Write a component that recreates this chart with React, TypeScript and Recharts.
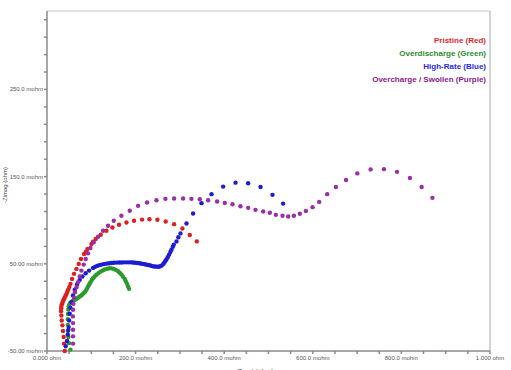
import { ScatterChart, Scatter, XAxis, YAxis, ReferenceLine } from 'recharts';

// Nyquist points, [Zreal mohm, -Zimag mohm]
const pristine: [number, number][] = [
  [40, -50], [38.4, -41.5], [37.7, -34], [36.1, -27], [34.8, -20.6], [33.2, -15], [32.5, -9.2],
  [31.6, -4.3], [32, -1], [32.5, 1.5], [33.5, 3.5], [35, 5.5], [36.5, 7.5], [38, 9.5], [40, 11.5],
  [42, 13.5], [44, 15.5], [46, 18], [48, 20.5], [50.5, 23.5], [53, 27], [56.5, 32.7], [61, 38.5],
  [66.4, 44.2], [71.6, 49.9], [76.8, 55.6], [83.6, 61.3], [88, 64], [91.3, 67], [100.3, 72.7],
  [104, 75.5], [110, 78.5], [121.3, 83.4], [134.2, 87.9], [147.7, 91.7], [162.6, 94.8],
  [179.4, 97.4], [196.5, 99.4], [214.6, 100.7], [231.2, 101.2], [249.2, 100.5], [268, 98.6],
  [286.9, 95.5], [305.7, 90.6], [322.3, 83], [338.1, 75.7],
];

const overdischarge: [number, number][] = [
  [52.9, -48.4], [49.7, -41], [48.3, -34], [47.5, -27], [47, -20], [47, -13.5], [47.3, -7.5],
  [48, -2.5], [49, 1], [50.5, 3.5], [52.5, 5.2], [55, 6.3], [58, 7.3], [61, 8.3], [64, 9.2],
  [67, 10], [70, 11], [73, 12.2], [76, 13.2], [79, 14.6], [82, 16], [85, 17.4], [88, 19.5],
  [90.5, 21.8], [93, 24.2], [95.5, 26.5], [98, 28.8], [101, 31.5], [104, 33.5], [107.5, 35.5],
  [111.6, 37.5], [116, 39.3], [120.6, 41], [125.5, 42.4], [130.3, 43.5], [136, 44.4],
  [141.6, 44.9], [146, 44.8], [150.7, 44.2], [155.5, 43], [160.4, 41.4], [164, 39.7],
  [168, 37.7], [171.5, 35.3], [175.5, 32.7], [178, 29.8], [180.7, 27], [183, 24], [185.2, 21.3],
];

const highRate: [number, number][] = [
  [42.2, -44.6], [45.2, -38.6], [47, -31], [48, -26], [49, -22.6], [50, -15], [51.3, -7.3],
  [52.9, -0.4], [55.1, 6], [58.7, 13.7], [62.6, 20.2], [67.8, 26.2], [73.9, 31.6], [80, 35.4],
  [87.4, 39.1], [94.9, 42.2], [103.9, 45.3], [108.5, 46.5], [113, 47.6], [118, 48.5],
  [122.9, 49.1], [128.5, 49.7], [134.2, 50.2], [140, 50.6], [145.5, 51], [151, 51.2],
  [156.8, 51.4], [162.5, 51.5], [168, 51.6], [173.5, 51.7], [179.4, 51.7], [185, 51.7],
  [190, 51.7], [194.3, 51.6], [199, 51.3], [204, 51], [209.4, 50.6], [213, 50.2], [216.9, 49.9],
  [220.5, 49.5], [224.5, 49.1], [228, 48.7], [232, 48.3], [235.5, 47.7], [239.4, 47.1],
  [243, 46.9], [247.1, 46.8], [250.8, 46.6], [254.5, 46.9], [258.4, 47.9], [262, 49.5],
  [265, 51.5], [267.5, 53.5], [269.6, 55], [272.5, 57.5], [275.6, 60.5], [278.5, 63.5],
  [281, 66.2], [284, 69.5], [286.2, 72], [292.3, 75.7], [296.5, 80.5], [301.3, 84.9],
  [314.9, 96.3], [329.8, 107.7], [348.8, 119.6], [371.4, 129.9], [397.6, 138.6],
  [425.6, 143.1], [454, 142.5], [482, 138.2], [509, 129.1], [533, 119.1],
];

const swollen: [number, number][] = [
  [58.7, -41.5], [58.7, -33.2], [58.7, -25.6], [58.7, -18], [58.5, -10.3], [58.7, -2.7],
  [59.6, 4.1], [61, 11], [63.2, 17.4], [66.4, 23.1], [70, 28.9], [73.9, 35.4], [77.7, 42.2],
  [82.9, 49.1], [87.4, 55.6], [92.6, 62], [98, 68.2], [105.5, 74.6], [115.2, 81.1],
  [126.5, 87.9], [137.8, 93.7], [150.7, 99.4], [168, 105.1], [186.8, 110.8], [205.6, 116.5],
  [225.9, 120.3], [247, 122.9], [267.3, 124.5], [286.9, 124.9], [307.2, 124.9], [326, 124.5],
  [344.9, 124.1], [363.7, 122.9], [384, 121.4], [401.3, 119.9], [418.7, 118.4], [436.7, 116.1],
  [454.1, 114.2], [470.6, 111.9], [488, 110], [503, 108.5], [516.6, 106.2], [531.7, 105.1],
  [544.4, 104.3], [557.3, 105.1], [570.8, 107.5], [584.4, 110.6], [599.5, 115], [614.4, 121],
  [632.5, 129.9], [652.1, 138.2], [675, 146.2], [700.5, 153.7], [730.5, 158.3], [760.6, 158.6],
  [790, 155.5], [819.3, 148.5], [845.7, 138.2], [870, 125.7],
];

const xTicks = [0, 50, 100, 150, 200, 250, 300, 350, 400, 450, 500, 550, 600, 650, 700, 750, 800, 850, 900, 950, 1000];
const xTickLabels: Record<number, string> = {
  0: '0.000 ohm', 200: '200.0 mohm', 400: '400.0 mohm', 600: '600.0 mohm', 800: '800.0 mohm', 1000: '1.000 ohm',
};
const yTicks = [-50, -30, -10, 10, 30, 50, 70, 90, 110, 130, 150, 170, 190, 210, 230, 250, 270, 290, 310, 330];
const yTickLabels: Record<number, string> = {
  [-50]: '-50.00 mohm', 50: '50.00 mohm', 150: '150.0 mohm', 250: '250.0 mohm',
};

const series = [
  { name: 'Pristine (Red)', data: pristine, dot: '#dc1f1f', text: '#e8262e' },
  { name: 'Overdischarge (Green)', data: overdischarge, dot: '#2a9a2a', text: '#2a8c2a' },
  { name: 'High-Rate (Blue)', data: highRate, dot: '#1c1cd0', text: '#2828e4' },
  { name: 'Overcharge / Swollen (Purple)', data: swollen, dot: '#9a2ea8', text: '#8c218c' },
];

const font = 'Arial, "Liberation Sans", sans-serif';

const dotShape = (color: string) => (props: any) => (
  <circle cx={props.cx} cy={props.cy} r={2.2} fill={color} />
);

const XTick = (props: any) => {
  const label = xTickLabels[props.payload.value];
  if (!label) return null;
  return (
    <text x={props.x} y={props.y + 4} textAnchor="middle" fontSize={6} fill="#555" fontFamily={font}>
      {label}
    </text>
  );
};

const YTick = (props: any) => {
  const label = yTickLabels[props.payload.value];
  if (!label) return null;
  return (
    <text x={props.x + 1} y={props.y + 2} textAnchor="end" fontSize={6} fill="#555" fontFamily={font}>
      {label}
    </text>
  );
};

const YLabel = () => (
  <text x={7} y={185} transform="rotate(-90 7 185)" textAnchor="middle" fontSize={6} fill="#444" fontFamily={font}>
    -Zimag (ohm)
  </text>
);

export default function App() {
  return (
    <div style={{ position: 'absolute', left: 0, top: 0, width: 511, height: 370, overflow: 'hidden', background: '#fff' }}>
      <ScatterChart width={511} height={370} margin={{ top: 11, right: 21, bottom: 0, left: 0 }}>
        <XAxis
          type="number"
          dataKey="x"
          domain={[0, 1000]}
          ticks={xTicks}
          interval={0}
          tick={<XTick />}
          tickSize={3}
          height={19}
          stroke="#8a8a8a"
          strokeWidth={1.5}
          label={{ value: 'Zreal (ohm)', position: 'insideBottom', offset: -4, dx: -13, fontSize: 7, fill: '#444', fontFamily: font }}
        />
        <YAxis
          type="number"
          dataKey="y"
          domain={[-50, 340]}
          ticks={yTicks}
          interval={0}
          tick={<YTick />}
          tickSize={3}
          width={47}
          stroke="#8a8a8a"
          strokeWidth={1.5}
          label={<YLabel />}
        />
        <ReferenceLine y={340} stroke="#c4c4c4" />
        <ReferenceLine x={1000} stroke="#a8a8a8" />
        {series.map((s) => (
          <Scatter
            key={s.name}
            name={s.name}
            data={s.data.map(([x, y]) => ({ x, y }))}
            shape={dotShape(s.dot)}
            isAnimationActive={false}
          />
        ))}
      </ScatterChart>
      <div
        style={{
          position: 'absolute',
          right: 25,
          top: 33.5,
          textAlign: 'right',
          fontFamily: font,
          fontWeight: 'bold',
          fontSize: 8,
          lineHeight: '13.2px',
        }}
      >
        {series.map((s) => (
          <div key={s.name} style={{ color: s.text }}>
            {s.name}
          </div>
        ))}
      </div>
    </div>
  );
}
